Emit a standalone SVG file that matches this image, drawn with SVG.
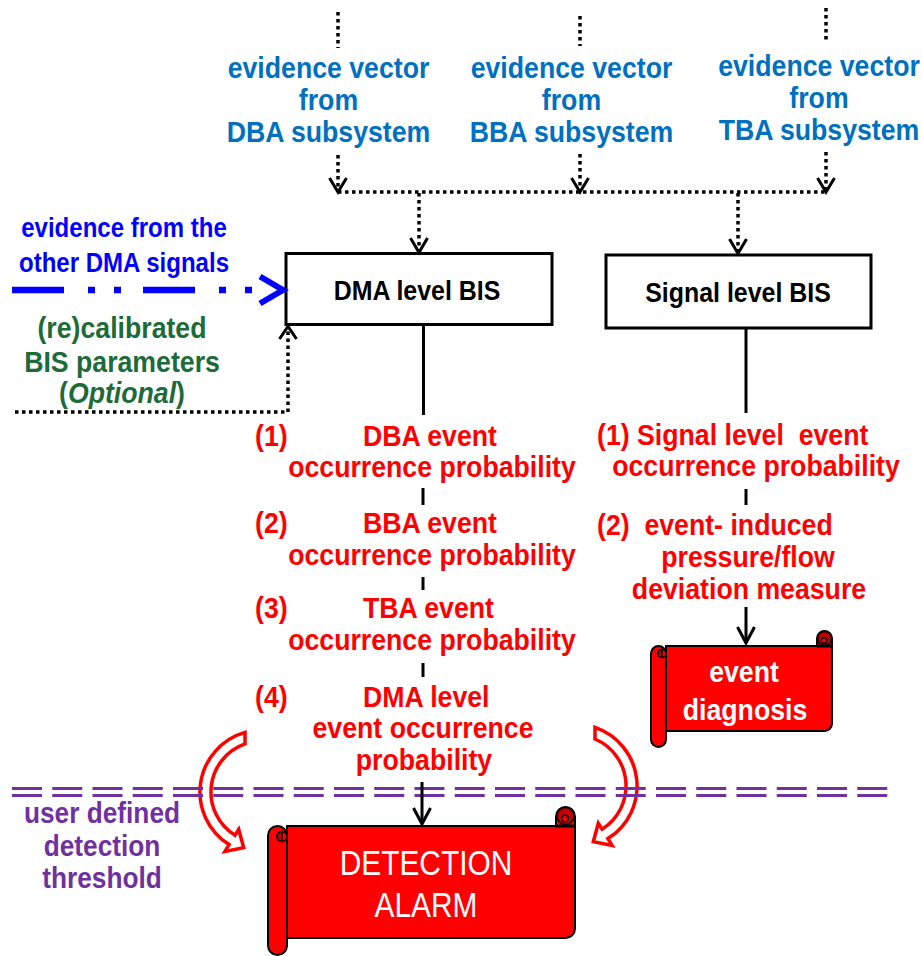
<svg xmlns="http://www.w3.org/2000/svg" width="922" height="956" viewBox="0 0 922 956">
  <style>
    text { font-family: "Liberation Sans", Arial, sans-serif; font-weight: bold; }
    .c { text-anchor: middle; }
    .s { text-anchor: start; }
    .ev { fill: #0070C0; font-size: 30px; }
    .ob { fill: #0000FF; font-size: 27px; }
    .gr { fill: #1D6B38; font-size: 30px; }
    .rd { fill: #FF0000; font-size: 30px; white-space: pre; }
    .pu { fill: #7030A0; font-size: 29.5px; }
    .bx { fill: #000000; font-size: 28px; }
    .wt { fill: #FFFFFF; }
    .nw { font-weight: normal; }
    .box { fill: #FFFFFF; stroke: #000000; stroke-width: 3; }
    .dot { fill: none; stroke: #000000; stroke-width: 3.5; stroke-dasharray: 3.5 3.5; }
    .solid { fill: none; stroke: #000000; stroke-width: 3; }
    .chev { fill: none; stroke: #000000; stroke-width: 3; stroke-linejoin: miter; }
    .sheet { fill: #FF0000; stroke: #000000; stroke-width: 2; }
    .curl { fill: #C00000; stroke: #000000; stroke-width: 1.5; }
    .curl2 { fill: #FF0000; stroke: #000000; stroke-width: 1.5; }
    .bend { fill: #FFFFFF; stroke: #FF0000; stroke-width: 3.5; stroke-linejoin: miter; }
    .thr { fill: none; stroke: #7030A0; stroke-width: 3; stroke-dasharray: 30 10.25; }
  </style>

  <!-- evidence vectors from the three subsystems -->
  <g id="ev-dba">
    <text class="ev c" transform="translate(328.5 78) scale(.89 1)">evidence vector</text>
    <text class="ev c" transform="translate(328.5 110) scale(.89 1)">from</text>
    <text class="ev c" transform="translate(328.5 141.5) scale(.89 1)">DBA subsystem</text>
  </g>
  <g id="ev-bba">
    <text class="ev c" transform="translate(571.5 78) scale(.89 1)">evidence vector</text>
    <text class="ev c" transform="translate(571.5 110) scale(.89 1)">from</text>
    <text class="ev c" transform="translate(571.5 141.5) scale(.89 1)">BBA subsystem</text>
  </g>
  <g id="ev-tba">
    <text class="ev c" transform="translate(819 76) scale(.89 1)">evidence vector</text>
    <text class="ev c" transform="translate(819 108) scale(.89 1)">from</text>
    <text class="ev c" transform="translate(819 140) scale(.89 1)">TBA subsystem</text>
  </g>

  <!-- side inputs -->
  <g id="other-signals">
    <text class="ob c" transform="translate(124 237) scale(.89 1)">evidence from the</text>
    <text class="ob c" transform="translate(124 272) scale(.89 1)">other DMA signals</text>
  </g>
  <g id="recalibration">
    <text class="gr c" transform="translate(122 338) scale(.89 1)">(re)calibrated</text>
    <text class="gr c" transform="translate(122 372) scale(.89 1)">BIS parameters</text>
    <text class="gr c" transform="translate(122 403) scale(.89 1)">(<tspan font-style="italic">Optional</tspan>)</text>
  </g>

  <!-- inference blocks -->
  <g id="dma-bis">
    <rect class="box" x="286" y="253.5" width="266" height="71"/>
    <text class="bx c" transform="translate(417 300) scale(.89 1)">DMA level BIS</text>
  </g>
  <g id="signal-bis">
    <rect class="box" x="606" y="255" width="265" height="73"/>
    <text class="bx c" transform="translate(738 301.5) scale(.89 1)">Signal level BIS</text>
  </g>

  <!-- outputs of the DMA level block -->
  <g id="dma-outputs">
    <text class="rd s" transform="translate(255 446) scale(.89 1)">(1)</text>
    <text class="rd s" transform="translate(363 446) scale(.89 1)">DBA event</text>
    <text class="rd c" transform="translate(432 477) scale(.89 1)">occurrence probability</text>
    <text class="rd s" transform="translate(255 533) scale(.89 1)">(2)</text>
    <text class="rd s" transform="translate(363 533) scale(.89 1)">BBA event</text>
    <text class="rd c" transform="translate(432 565) scale(.89 1)">occurrence probability</text>
    <text class="rd s" transform="translate(255 618) scale(.89 1)">(3)</text>
    <text class="rd s" transform="translate(363 618) scale(.89 1)">TBA event</text>
    <text class="rd c" transform="translate(432 650) scale(.89 1)">occurrence probability</text>
    <text class="rd s" transform="translate(255 706.5) scale(.89 1)">(4)</text>
    <text class="rd s" transform="translate(363 706.5) scale(.89 1)">DMA level</text>
    <text class="rd c" transform="translate(423 737.5) scale(.89 1)">event occurrence</text>
    <text class="rd c" transform="translate(424 769.5) scale(.89 1)">probability</text>
  </g>

  <!-- outputs of the signal level block -->
  <g id="signal-outputs">
    <text class="rd s" transform="translate(597 445) scale(.89 1)">(1) Signal level  event</text>
    <text class="rd c" transform="translate(756 476) scale(.89 1)">occurrence probability</text>
    <text class="rd s" transform="translate(597 535) scale(.89 1)">(2)  event- induced</text>
    <text class="rd c" transform="translate(748 566.5) scale(.89 1)">pressure/flow</text>
    <text class="rd c" transform="translate(749 598.5) scale(.89 1)">deviation measure</text>
  </g>

  <!-- scroll banners -->
  <g id="event-diagnosis">
    <path class="sheet" d="M666 646 H817 V638.5 A7.5 7.5 0 0 1 832 638.5 V723.5 A7.5 7.5 0 0 1 824.5 731 H666 Z"/>
    <circle class="curl" cx="824.5" cy="638.5" r="7"/>
    <circle class="curl2" cx="824" cy="640.5" r="2.8"/>
    <line class="solid" x1="817" y1="646" x2="832" y2="646" stroke-width="1.5"/>
    <path class="sheet" d="M651 653.5 A7.5 7.5 0 0 1 666 653.5 V739.5 A7.5 7.5 0 0 1 651 739.5 Z"/>
    <circle class="curl2" cx="662" cy="653.5" r="4"/>
    <path class="curl" d="M662 649.5 A4 4 0 0 0 662 657.5 Z"/>
    <text class="wt c" font-size="30" transform="translate(744 681.5) scale(.89 1)">event</text>
    <text class="wt c" font-size="30" transform="translate(745 720) scale(.89 1)">diagnosis</text>
  </g>
  <g id="detection-alarm">
    <path class="sheet" d="M287 826 H556 V816.5 A9.5 9.5 0 0 1 575 816.5 V928.5 A9.5 9.5 0 0 1 565.5 938 H287 Z"/>
    <circle class="curl" cx="565.5" cy="816" r="8.5"/>
    <circle class="curl2" cx="565" cy="818.5" r="3.3"/>
    <line class="solid" x1="556" y1="826" x2="575" y2="826" stroke-width="1.5"/>
    <path class="sheet" d="M268 835.5 A9.5 9.5 0 0 1 287 835.5 V945.5 A9.5 9.5 0 0 1 268 945.5 Z"/>
    <circle class="curl2" cx="282" cy="836.5" r="5"/>
    <path class="curl" d="M282 831.5 A5 5 0 0 0 282 841.5 Z"/>
    <text class="wt c nw" font-size="36" transform="translate(426 875) scale(.83 1)">DETECTION</text>
    <text class="wt c nw" font-size="36" transform="translate(426 916.5) scale(.83 1)">ALARM</text>
  </g>

  <!-- curved arrows from the DMA level probability to the alarm -->
  <g id="threshold-arrows">
    <path class="bend" d="M245 732.4 A62 62 0 0 0 229.1 844.6 L224.9 851.4 L243.7 847.7 L238.7 829.3 L235 835.3 A51 51 0 0 1 245 743.9 Z"/>
    <path class="bend" d="M595 727.3 A62 62 0 0 1 607.9 838.6 L612.1 845.4 L593.3 841.7 L598.3 823.3 L602 829.2 A51 51 0 0 0 595 739 Z"/>
  </g>

  <!-- detection threshold -->
  <g id="threshold">
    <line class="thr" x1="12" y1="788.5" x2="888" y2="788.5"/>
    <line class="thr" x1="12" y1="795.5" x2="888" y2="795.5"/>
    <text class="pu c" transform="translate(102 823) scale(.89 1)">user defined</text>
    <text class="pu c" transform="translate(102 856) scale(.89 1)">detection</text>
    <text class="pu c" transform="translate(102 888) scale(.89 1)">threshold</text>
  </g>

  <!-- connectors -->
  <g id="connectors">
    <!-- incoming evidence -->
    <line class="dot" x1="338" y1="12" x2="338" y2="48"/>
    <line class="dot" x1="580" y1="16" x2="580" y2="46"/>
    <line class="dot" x1="826" y1="8" x2="826" y2="43"/>
    <line class="dot" x1="338" y1="155" x2="338" y2="190"/>
    <line class="dot" x1="580" y1="154" x2="580" y2="190"/>
    <line class="dot" x1="826" y1="152" x2="826" y2="190"/>
    <polyline class="chev" points="329.5,178 338,192 346.5,178"/>
    <polyline class="chev" points="571.5,178 580,192 588.5,178"/>
    <polyline class="chev" points="817.5,178 826,192 834.5,178"/>
    <line class="dot" x1="338" y1="192" x2="826" y2="192"/>
    <line class="dot" x1="419" y1="193" x2="419" y2="251"/>
    <line class="dot" x1="738" y1="193" x2="738" y2="252"/>
    <polyline class="chev" points="410.5,238 419,252.5 427.5,238"/>
    <polyline class="chev" points="729.5,239 738,253.5 746.5,239"/>

    <!-- evidence from the other DMA signals -->
    <line x1="12" y1="290" x2="252" y2="290" stroke="#0000FF" stroke-width="6.5" stroke-dasharray="52 24 7 19 7 22"/>
    <polyline points="260,276.5 283,290 260,303.5" fill="none" stroke="#0000FF" stroke-width="6"/>

    <!-- optional recalibration feedback -->
    <polyline class="dot" points="15,412 288,412 288,329" stroke-dasharray="4 4"/>
    <polyline class="chev" points="279.5,339 288,326.5 296.5,339"/>

    <!-- DMA level output chain -->
    <line class="solid" x1="423.5" y1="325" x2="423.5" y2="415"/>
    <line class="solid" x1="423" y1="488" x2="423" y2="505"/>
    <line class="solid" x1="423" y1="577" x2="423" y2="590"/>
    <line class="solid" x1="423" y1="663" x2="423" y2="677"/>
    <line class="solid" x1="422" y1="782" x2="422" y2="823"/>
    <polyline class="chev" points="413.5,808 422,824 430.5,808"/>

    <!-- signal level output chain -->
    <line class="solid" x1="746" y1="328" x2="746" y2="413"/>
    <line class="solid" x1="746" y1="489" x2="746" y2="505"/>
    <line class="solid" x1="746" y1="607" x2="746" y2="642"/>
    <polyline class="chev" points="737.5,627 746,643 754.5,627"/>
  </g>
</svg>
